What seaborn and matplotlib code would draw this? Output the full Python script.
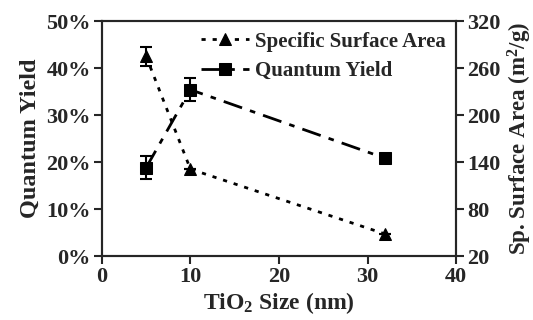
import matplotlib
matplotlib.use("Agg")
import matplotlib.pyplot as plt
import seaborn as sns
import pandas as pd
from matplotlib.ticker import PercentFormatter

# data
size_nm = [5, 10, 32]
quantum_yield = [18.8, 35.4, 20.8]      # %
qy_err = [2.5, 2.4, 0.0]
surface_area = [275, 131, 48]           # m2/g
sa_err = [12, 0, 0]

df = pd.DataFrame({"size": size_nm, "qy": quantum_yield, "sa": surface_area})

sns.set_style("ticks")
plt.rcParams["font.family"] = ["Liberation Serif", "DejaVu Serif"]
plt.rcParams["font.weight"] = "bold"
plt.rcParams["axes.labelweight"] = "bold"
plt.rcParams["mathtext.default"] = "regular"

fig = plt.figure(figsize=(5.33, 3.2), dpi=100)
ax = fig.add_axes([0.191, 0.2, 0.665, 0.734])
ax2 = ax.twinx()

sns.lineplot(data=df, x="size", y="qy", ax=ax, color="black", marker="s",
             markersize=8, linewidth=2, markeredgecolor="black",
             label="Quantum Yield", legend=False)
ax.lines[-1].set_dashes([7, 3, 2, 3])
ax.errorbar(size_nm, quantum_yield, yerr=qy_err, fmt="none", ecolor="black",
            capsize=4, elinewidth=1.5, capthick=1.5)

sns.lineplot(data=df, x="size", y="sa", ax=ax2, color="black", marker="^",
             markersize=9, linewidth=2, markeredgecolor="black",
             label="Specific Surface Area", legend=False)
ax2.lines[-1].set_dashes([1.5, 2.5])
ax2.errorbar(size_nm, surface_area, yerr=sa_err, fmt="none", ecolor="black",
             capsize=4, elinewidth=1.5, capthick=1.5)

ax.set_xlim(0, 40)
ax.set_xticks([0, 10, 20, 30, 40])
ax.set_ylim(0, 50)
ax.set_yticks([0, 10, 20, 30, 40, 50])
ax.yaxis.set_major_formatter(PercentFormatter(decimals=0))
ax2.set_ylim(20, 320)
ax2.set_yticks([20, 80, 140, 200, 260, 320])

ax.set_xlabel("TiO$_2$ Size (nm)", fontsize=17, labelpad=2)
ax.set_ylabel("Quantum Yield", fontsize=17.5)
ax2.set_ylabel("Sp. Surface Area (m$^2$/g)", fontsize=16.5)

for a in (ax, ax2):
    a.tick_params(labelsize=16, width=1.5, length=6, direction="out", pad=2)
    for s in a.spines.values():
        s.set_linewidth(1.5)
        s.set_visible(True)

h1, l1 = ax.get_legend_handles_labels()
h2, l2 = ax2.get_legend_handles_labels()
ax2.legend(h2 + h1, l2 + l1, loc="upper right", frameon=False,
           handlelength=2.3, handletextpad=0.3, borderaxespad=0.1,
           labelspacing=0.45, prop={"weight": "bold", "size": 15})

fig.savefig("out.png", dpi=100)
